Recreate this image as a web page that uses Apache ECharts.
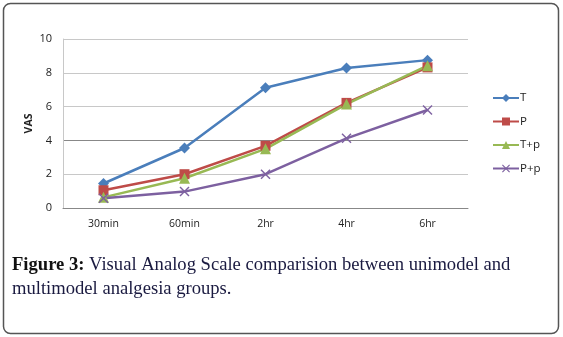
<!DOCTYPE html>
<html>
<head>
<meta charset="utf-8">
<script src="https://cdn.jsdelivr.net/npm/echarts@6/dist/echarts.min.js"></script>
<style>
html, body { margin: 0; padding: 0; background: #fff; }
#chart { width: 563px; height: 337px; }
</style>
</head>
<body>
<div id="chart"></div>
<script>
const categories = ['30min', '60min', '2hr', '4hr', '6hr']
const tValues = [1.45, 3.55, 7.12, 8.28, 8.75]
const pValues = [1.05, 2.0, 3.68, 6.22, 8.32]
const tpValues = [0.63, 1.76, 3.5, 6.15, 8.42]
const ppValues = [0.58, 0.97, 2.0, 4.12, 5.8]
const yTicks = [0, 2, 4, 6, 8, 10]

const crossPath = 'path://M0,1L1,0L5,4L9,0L10,1L6,5L10,9L9,10L5,6L1,10L0,9L4,5Z'

const makeSeries = (name, data, color, symbol, size) => ({
    name,
    type: 'line',
    data,
    symbol,
    symbolSize: size,
    showAllSymbol: true,
    lineStyle: { color, width: 2.5 },
    itemStyle: { color },
    z: 3
})

const chart = echarts.init(document.getElementById('chart'))
chart.setOption({
    animation: false,
    grid: { left: 63, right: 95, top: 39, bottom: 129 },
    legend: {
        orient: 'vertical',
        left: 487,
        top: 87,
        itemWidth: 26,
        itemHeight: 10,
        itemGap: 11.5,
        textStyle: { fontFamily: 'Open Sans', fontSize: 11.5, color: '#222', padding: [0, 0, 0, -4] },
        data: ['T', 'P', 'T+p', 'P+p']
    },
    xAxis: {
        type: 'category',
        data: categories,
        boundaryGap: true,
        axisLine: { lineStyle: { color: '#888', width: 1 } },
        axisTick: { show: false },
        axisLabel: { fontFamily: 'Open Sans', fontSize: 10.5, color: '#222', margin: 11 }
    },
    yAxis: {
        type: 'value',
        min: yTicks[0],
        max: yTicks[yTicks.length - 1],
        interval: 2,
        name: 'VAS',
        nameLocation: 'middle',
        nameRotate: 90,
        nameGap: 28,
        nameMoveOverlap: false,
        nameTextStyle: { fontFamily: 'Open Sans', fontSize: 10.5, fontWeight: 'bold', color: '#222' },
        axisLine: { show: true, lineStyle: { color: '#c8c8c8', width: 1 } },
        axisTick: { show: false },
        axisLabel: { fontFamily: 'Open Sans', fontSize: 11, color: '#222', margin: 11 },
        splitLine: { lineStyle: { color: ['#bbb', '#c8c8c8', '#888', '#c8c8c8', '#c8c8c8', '#c8c8c8'], width: 1 } }
    },
    series: [
        makeSeries('T', tValues, '#4a7ebb', 'diamond', 11),
        makeSeries('P', pValues, '#be4b48', 'rect', 10),
        makeSeries('T+p', tpValues, '#98b954', 'triangle', 11),
        makeSeries('P+p', ppValues, '#7d60a0', crossPath, 10)
    ],
    graphic: [
        {
            type: 'rect',
            shape: { x: 3.5, y: 3.5, width: 555, height: 330, r: 7 },
            style: { fill: 'none', stroke: '#555', lineWidth: 1.5 },
            silent: true
        },
        {
            type: 'text',
            left: 12,
            top: 256,
            style: {
                text: '{b|Figure 3:} Visual Analog Scale comparision between unimodel and',
                rich: {
                    b: { fontFamily: 'Liberation Serif', fontSize: 18.6, fontWeight: 'bold', fill: '#111' }
                },
                fontFamily: 'Liberation Serif',
                fontSize: 18.6,
                fill: '#1a1a40'
            }
        },
        {
            type: 'text',
            left: 12,
            top: 280,
            style: {
                text: 'multimodel analgesia groups.',
                fontFamily: 'Liberation Serif',
                fontSize: 18.6,
                fill: '#1a1a40'
            }
        }
    ]
})
</script>
</body>
</html>
